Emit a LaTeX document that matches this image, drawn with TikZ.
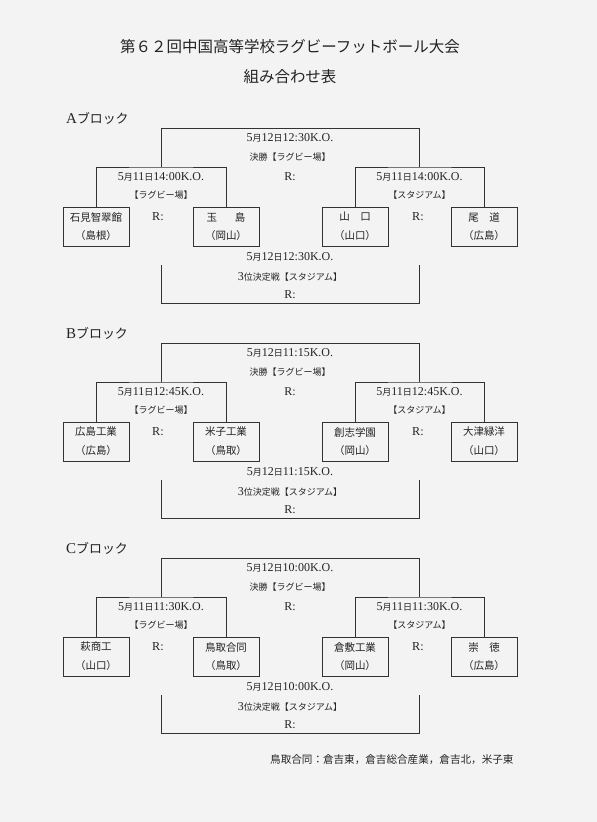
\documentclass[tikz,border=0pt]{standalone}
\usepackage{fontspec}
\setmainfont{Liberation Serif}
\newfontfamily\jpfont[Scale=0.86]{Noto Sans CJK JP}
\newfontfamily\jpfontS[Scale=0.75]{Noto Sans CJK JP}
\newfontfamily\latfont{Liberation Serif}
\XeTeXinterchartokenstate=1
\newXeTeXintercharclass\JPclass
\newcount\jpc
\def\setjprange#1#2{\jpc=#1\relax\loop\XeTeXcharclass\jpc=\JPclass\relax\ifnum\jpc<#2\relax\advance\jpc by 1\repeat}
\setjprange{"3000}{"30FF}
\setjprange{"4E00}{"9FFF}
\setjprange{"FF00}{"FFEF}
\XeTeXinterchartoks 0 \JPclass = {\jpfont}
\XeTeXinterchartoks 4095 \JPclass = {\jpfont}
\XeTeXinterchartoks \JPclass 0 = {\latfont}
\XeTeXinterchartoks \JPclass 4095 = {\latfont}
\definecolor{bg}{RGB}{243,243,243}
\definecolor{ink}{RGB}{35,35,35}
\definecolor{lncol}{RGB}{50,50,50}
\tikzset{
  ln/.style={draw=lncol, line width=0.9pt},
  tx/.style={text=ink, inner sep=0pt, font={\fontsize{12}{13}\selectfont\let\jpfont\jpfontS}},
  tm/.style={text=ink, inner sep=0pt, font=\fontsize{12.2}{14}\selectfont},
  teambox/.style={draw=lncol, line width=0.9pt, minimum width=66pt, minimum height=39pt, inner sep=0pt},
  ttl/.style={text=ink, inner sep=0pt, font=\fontsize{18}{20}\selectfont},
  blk/.style={text=ink, inner sep=0pt, font=\fontsize{15}{17}\selectfont, anchor=west},
  note/.style={text=ink, inner sep=0pt, font=\fontsize{12.3}{14}\selectfont, anchor=west}
}
\newcommand\teambox[4]{%
  \node[teambox] (#1) at (#2,226.5) {};
  \node[tm] (#1-n) at (#2,217) {#3};
  \node[tm] (#1-p) at (#2,236) {#4};
}
\newcommand\rugbyblock[3]{%
  \node[blk] (#1-lbl) at (66,118) {#1ブロック};
  \coordinate (#1-s1) at (161,167);
  \coordinate (#1-s2) at (419.5,167);
  \draw[ln] (#1-t1.north) |- (#1-s1) -| (#1-t2.north);
  \draw[ln] (#1-t3.north) |- (#1-s2) -| (#1-t4.north);
  \draw[ln] (#1-s1) -- ++(0,-39) -| (#1-s2);
  \coordinate (#1-q1) at (161,265);
  \coordinate (#1-q2) at (419.5,265);
  \draw[ln] (#1-q1) -- ++(0,38) -| (#1-q2);
  \node[tx] (#1-fd) at (290,138) {5月12日#2K.O.};
  \node[tx] (#1-fv) at (290,157) {決勝【ラグビー場】};
  \node[tx] (#1-fr) at (290,177) {R:};
  \node[tx] (#1-ld) at (161,177) {5月11日#3K.O.};
  \node[tx] (#1-lv) at (161,195) {【ラグビー場】};
  \node[tx] (#1-rd) at (419.5,177) {5月11日#3K.O.};
  \node[tx] (#1-rv) at (419.5,195) {【スタジアム】};
  \node[tm] (#1-lr) at (158,217) {R:};
  \node[tm] (#1-rr) at (418,217) {R:};
  \node[tx] (#1-qd) at (290,257) {5月12日#2K.O.};
  \node[tx] (#1-qv) at (290,277) {3位決定戦【スタジアム】};
  \node[tx] (#1-qr) at (290,295) {R:};
}
\begin{document}
\begin{tikzpicture}[x=1pt,y=-1pt]
\useasboundingbox (0,0) rectangle (597,822);
\fill[bg] (0,0) rectangle (597,822);
\node[ttl] (title1) at (290,47) {第６２回中国高等学校ラグビーフットボール大会};
\node[ttl] (title2) at (290,77) {組み合わせ表};
\begin{scope}
  \teambox{A-t1}{96}{石見智翠館}{（島根）}
  \teambox{A-t2}{226}{玉\hspace{18pt}島}{（岡山）}
  \teambox{A-t3}{355}{山　口}{（山口）}
  \teambox{A-t4}{484}{尾　道}{（広島）}
  \rugbyblock{A}{12:30}{14:00}
\end{scope}
\begin{scope}[yshift=-215pt]
  \teambox{B-t1}{96}{広島工業}{（広島）}
  \teambox{B-t2}{226}{米子工業}{（鳥取）}
  \teambox{B-t3}{355}{創志学園}{（岡山）}
  \teambox{B-t4}{484}{大津緑洋}{（山口）}
  \rugbyblock{B}{11:15}{12:45}
\end{scope}
\begin{scope}[yshift=-430pt]
  \teambox{C-t1}{96}{萩商工}{（山口）}
  \teambox{C-t2}{226}{鳥取合同}{（鳥取）}
  \teambox{C-t3}{355}{倉敷工業}{（岡山）}
  \teambox{C-t4}{484}{崇　徳}{（広島）}
  \rugbyblock{C}{10:00}{11:30}
\end{scope}
\node[note] (fn) at (270,760) {鳥取合同：倉吉東，倉吉総合産業，倉吉北，米子東};
\end{tikzpicture}
\end{document}
